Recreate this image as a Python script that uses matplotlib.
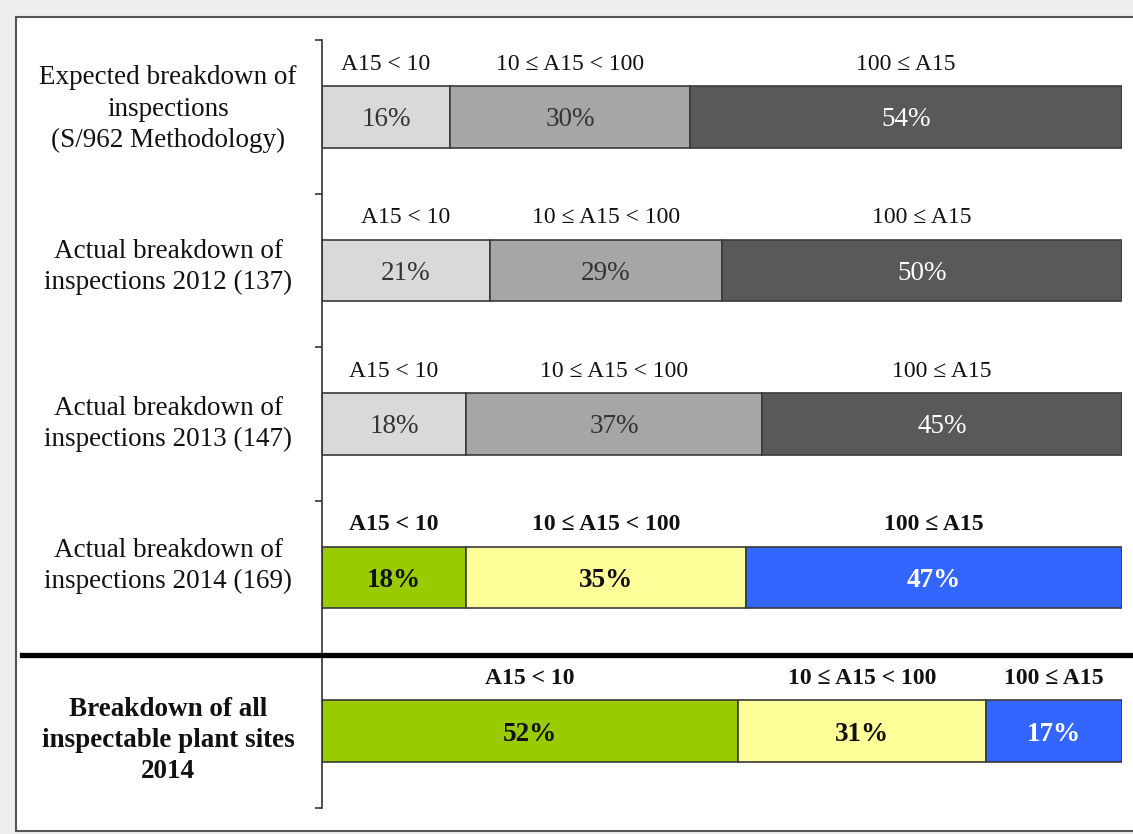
import numpy as np
import matplotlib.pyplot as plt
from matplotlib.patches import Rectangle
from matplotlib.lines import Line2D

# rows, top to bottom
groups = ["Expected breakdown of\ninspections\n(S/962 Methodology)",
          "Actual breakdown of\ninspections 2012 (137)",
          "Actual breakdown of\ninspections 2013 (147)",
          "Actual breakdown of\ninspections 2014 (169)",
          "Breakdown of all\ninspectable plant sites\n2014"]
bands = ["A15 < 10", "10 \u2264 A15 < 100", "100 \u2264 A15"]
low = [16, 21, 18, 18, 52]
mid = [30, 29, 37, 35, 31]
high = [54, 50, 45, 47, 17]

gray_cols = ["#d9d9d9", "#a6a6a6", "#595959"]
color_cols = ["#99cc00", "#ffff99", "#3366ff"]
# vertical nudge of the left-hand row labels
label_shift = [-0.05, -0.02, 0.0, -0.075, 0.06]

plt.rcParams['font.family'] = ['Liberation Serif', 'DejaVu Serif']

W, H = 1133, 834
fig = plt.figure(figsize=(W / 100, H / 100), dpi=100)
fig.patch.set_facecolor("#eeeeee")
# white panel with frame
fig.patches.append(Rectangle((16 / W, 1 - 831 / H), 1.2, (831 - 17) / H,
                             transform=fig.transFigure, facecolor="white",
                             edgecolor="#555555", linewidth=1.5, zorder=-5))

ax = fig.add_axes([322 / W, 1 - 808 / H, 800 / W, 768 / H])
ax.set_facecolor("none")
ax.set_xlim(0, 100)
ax.set_ylim(4.5, -0.5)
for s in ["top", "right", "bottom"]:
    ax.spines[s].set_visible(False)
ax.spines["left"].set_color("#333333")
ax.spines["left"].set_linewidth(1.2)
ax.set_xticks([])
ax.set_yticks(np.arange(-0.5, 5, 1))
ax.set_yticklabels([])
ax.tick_params(axis="y", length=5, width=1.2, color="#333333")

vals = np.array([low, mid, high]).T
for i, row in enumerate(vals):
    cols = color_cols if i >= 3 else gray_cols
    weight = "bold" if i >= 3 else "normal"
    left = 0
    for j, v in enumerate(row):
        ax.barh(i, v, left=left, height=0.4, color=cols[j],
                edgecolor="#3a3a3a", linewidth=1.2)
        tc = "white" if j == 2 else ("#111111" if i >= 3 else "#333333")
        ax.text(left + v / 2, i, f"{v}%", ha="center", va="center_baseline",
                fontsize=19.5, color=tc, fontweight=weight)
        ax.text(left + v / 2, i - 0.36, bands[j], ha="center",
                va="center_baseline", fontsize=17, color="#111111",
                fontweight=weight)
        left += v
    ax.text(-0.1925, i + label_shift[i], groups[i],
            transform=ax.get_yaxis_transform(), ha="center", va="center",
            multialignment="center", fontsize=19.5, linespacing=1.32,
            fontweight="bold" if i == 4 else "normal", color="#111111")

# thick separator above the last row
fig.lines.append(Line2D([22 / W, 1], [1 - 655 / H, 1 - 655 / H],
                        transform=fig.transFigure, color="black", linewidth=3.8))

fig.savefig("out.png", dpi=100, facecolor=fig.get_facecolor())
